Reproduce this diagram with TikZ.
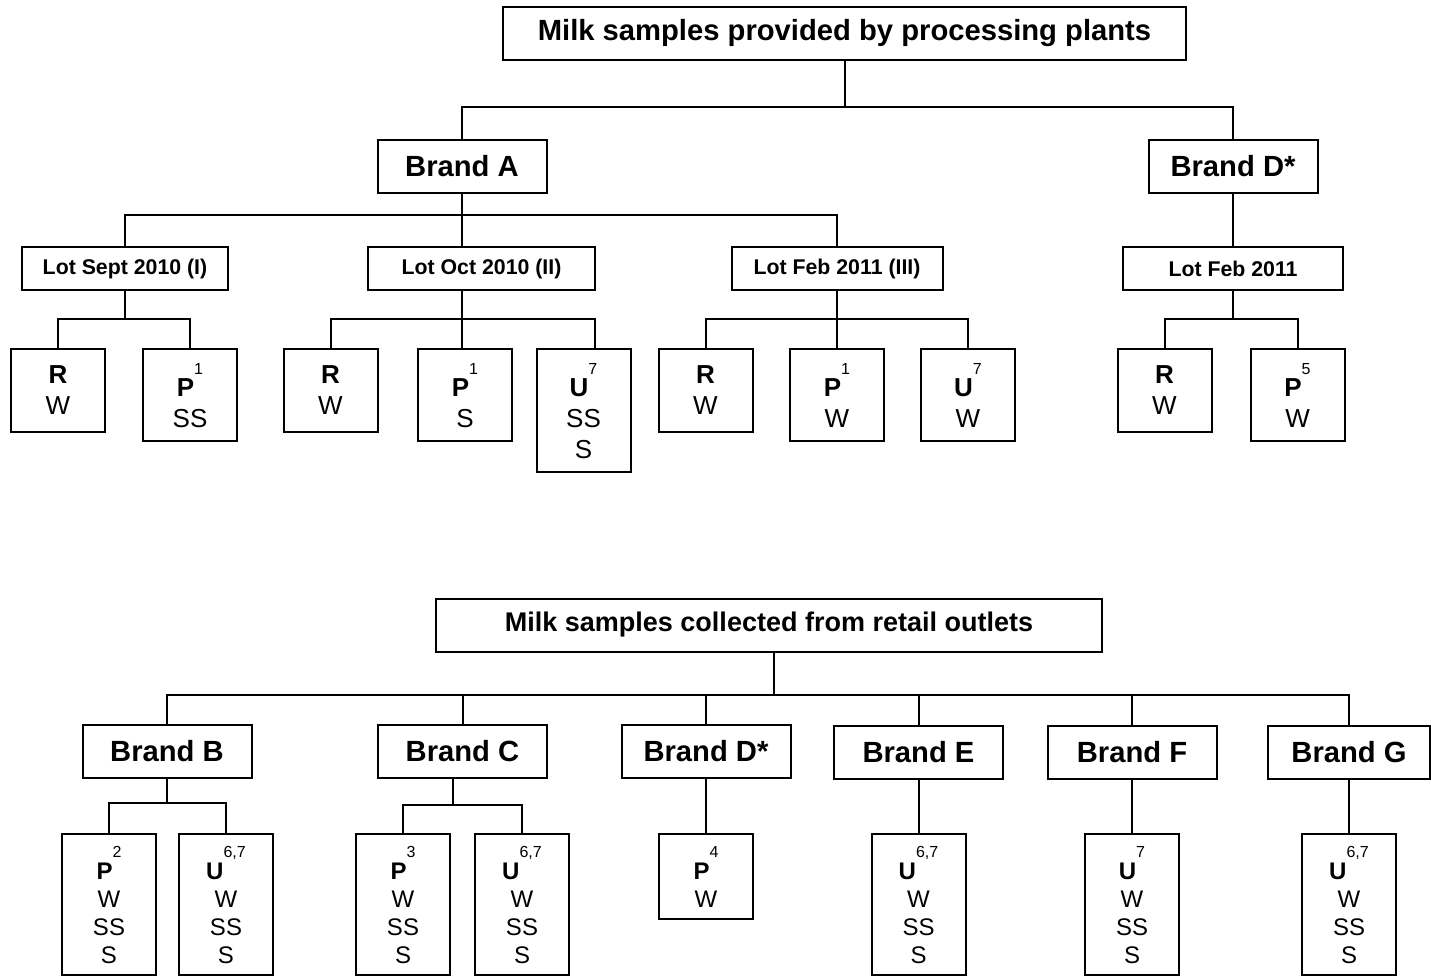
\documentclass[tikz,border=0pt]{standalone}
\usepackage{fontspec}
\setmainfont{Liberation Sans}
\usetikzlibrary{positioning, calc}

\newcommand{\supnum}[1]{\raisebox{22pt}{\fontsize{16}{16}\selectfont #1}}

\tikzset{
  link/.style={line width=2pt},
  headbox/.style={draw, line width=2pt, minimum height=53pt, inner sep=0pt, font=\fontsize{29.2}{34}\selectfont\bfseries},
  brandbox/.style={draw, line width=2pt, minimum width=169pt, minimum height=53pt, inner sep=0pt, font=\fontsize{29.2}{34}\selectfont\bfseries},
  lotbox/.style={draw, line width=2pt, minimum height=43pt, inner sep=0pt, font=\fontsize{21.3}{25}\selectfont\bfseries},
  leafbox/.style={draw, line width=2pt, anchor=north, minimum width=94pt, minimum height=83pt, inner xsep=0pt, inner ysep=14pt, align=center, font=\fontsize{26}{31}\selectfont},
  leaflow/.style={leafbox, inner ysep=12pt, font=\fontsize{24}{28}\selectfont}
}

\begin{document}
\begin{tikzpicture}[x=1pt, y=-1pt]
  \useasboundingbox (0,0) rectangle (1431,977);

  % Plants
  \node[headbox, minimum width=683pt] (title1) at (844.5,33.5) {Milk samples provided by processing plants};
  \node[brandbox] (brA) at (462,166.5) {Brand A};
  \node[brandbox] (brDa) at (1233,166.5) {Brand D*};

  \node[lotbox, minimum width=206pt] (lot1) at (125,268.5) {Lot Sept 2010 (I)};
  \node[lotbox, minimum width=227pt] (lot2) at (481.5,268.5) {Lot Oct 2010 (II)};
  \node[lotbox, minimum width=211pt] (lot3) at (837,268.5) {Lot Feb 2011 (III)};
  \node[lotbox, minimum width=220pt] (lotD) at (1233,268.5) {Lot Feb 2011};

  \node[leafbox] (r1) at (58,348) {\textbf{R}\\W};
  \node[leafbox] (p1) at (190,348) {\textbf{P}\supnum{1}\\SS};
  \node[leafbox] (r2) at (330.5,348) {\textbf{R}\\W};
  \node[leafbox] (p2) at (465,348) {\textbf{P}\supnum{1}\\S};
  \node[leafbox] (u2) at (583.5,348) {\textbf{U}\supnum{7}\\SS\\S};
  \node[leafbox] (r3) at (705.5,348) {\textbf{R}\\W};
  \node[leafbox] (p3) at (837,348) {\textbf{P}\supnum{1}\\W};
  \node[leafbox] (u3) at (968,348) {\textbf{U}\supnum{7}\\W};
  \node[leafbox] (rD) at (1164.5,348) {\textbf{R}\\W};
  \node[leafbox] (pD) at (1297.5,348) {\textbf{P}\supnum{5}\\W};

  \coordinate (barT) at (0,107);
  \coordinate (barA) at (0,215);
  \coordinate (barL) at (0,319);

  \draw[link] (title1.south) -- (title1.south |- barT);
  \draw[link] (brA.north) |- (barT -| brDa.north) -- (brDa.north);
  \draw[link] (brA.south) -- (brA.south |- lot2.north);
  \draw[link] (lot1.north) |- (barA -| lot3.north) -- (lot3.north);
  \draw[link] (brDa.south) -- (lotD.north);

  \draw[link] (lot1.south) -- (lot1.south |- barL);
  \draw[link] (r1.north) |- (barL -| p1.north) -- (p1.north);
  \draw[link] (lot2.south -| brA.south) -- (p2.north -| brA.south);
  \draw[link] (r2.north) |- ($(barL -| u2.north)+(11,0)$) -- ($(u2.north)+(11,0)$);
  \draw[link] (lot3.south) -- (p3.north);
  \draw[link] (r3.north) |- (barL -| u3.north) -- (u3.north);
  \draw[link] (lotD.south) -- (lotD.south |- barL);
  \draw[link] (rD.north) |- (barL -| pD.north) -- (pD.north);

  % Retail
  \node[headbox, minimum width=666pt, font=\fontsize{27}{32}\selectfont\bfseries] (title2) at (769,625) {Milk samples collected from retail outlets};
  \node[brandbox] (brB) at (167,751) {Brand B};
  \node[brandbox] (brC) at (462.5,751) {Brand C};
  \node[brandbox] (brD) at (706,751) {Brand D*};
  \node[brandbox] (brE) at (918.5,752) {Brand E};
  \node[brandbox] (brF) at (1132,752) {Brand F};
  \node[brandbox, minimum width=162pt] (brG) at (1349,752) {Brand G};

  \node[leaflow] (pB) at (109,833) {\textbf{P}\supnum{2}\\W\\SS\\S};
  \node[leaflow] (uB) at (226,833) {\textbf{U}\supnum{6,7}\\W\\SS\\S};
  \node[leaflow] (pC) at (403,833) {\textbf{P}\supnum{3}\\W\\SS\\S};
  \node[leaflow] (uC) at (522,833) {\textbf{U}\supnum{6,7}\\W\\SS\\S};
  \node[leaflow] (pD2) at (706,833) {\textbf{P}\supnum{4}\\W};
  \node[leaflow] (uE) at (918.5,833) {\textbf{U}\supnum{6,7}\\W\\SS\\S};
  \node[leaflow] (uF) at (1132,833) {\textbf{U}\supnum{7}\\W\\SS\\S};
  \node[leaflow] (uG) at (1349,833) {\textbf{U}\supnum{6,7}\\W\\SS\\S};

  \coordinate (barB) at (0,695);
  \coordinate (barBB) at (0,803);
  \coordinate (barBC) at (0,805);

  \draw[link] ($(title2.south)+(5,0)$) -- ($(title2.south |- barB)+(5,0)$);
  \draw[link] (brB.north) |- (barB -| brG.north) -- (brG.north);
  \foreach \b in {brC, brD, brE, brF}
    \draw[link] (\b.north) -- (\b.north |- barB);

  \draw[link] (brB.south) -- (brB.south |- barBB);
  \draw[link] (pB.north) |- (barBB -| uB.north) -- (uB.north);
  \draw[link] ($(brC.south)+(-10,0)$) -- ($(brC.south |- barBC)+(-10,0)$);
  \draw[link] (pC.north) |- (barBC -| uC.north) -- (uC.north);
  \foreach \b/\l in {brD/pD2, brE/uE, brF/uF, brG/uG}
    \draw[link] (\b.south) -- (\l.north);
\end{tikzpicture}
\end{document}
